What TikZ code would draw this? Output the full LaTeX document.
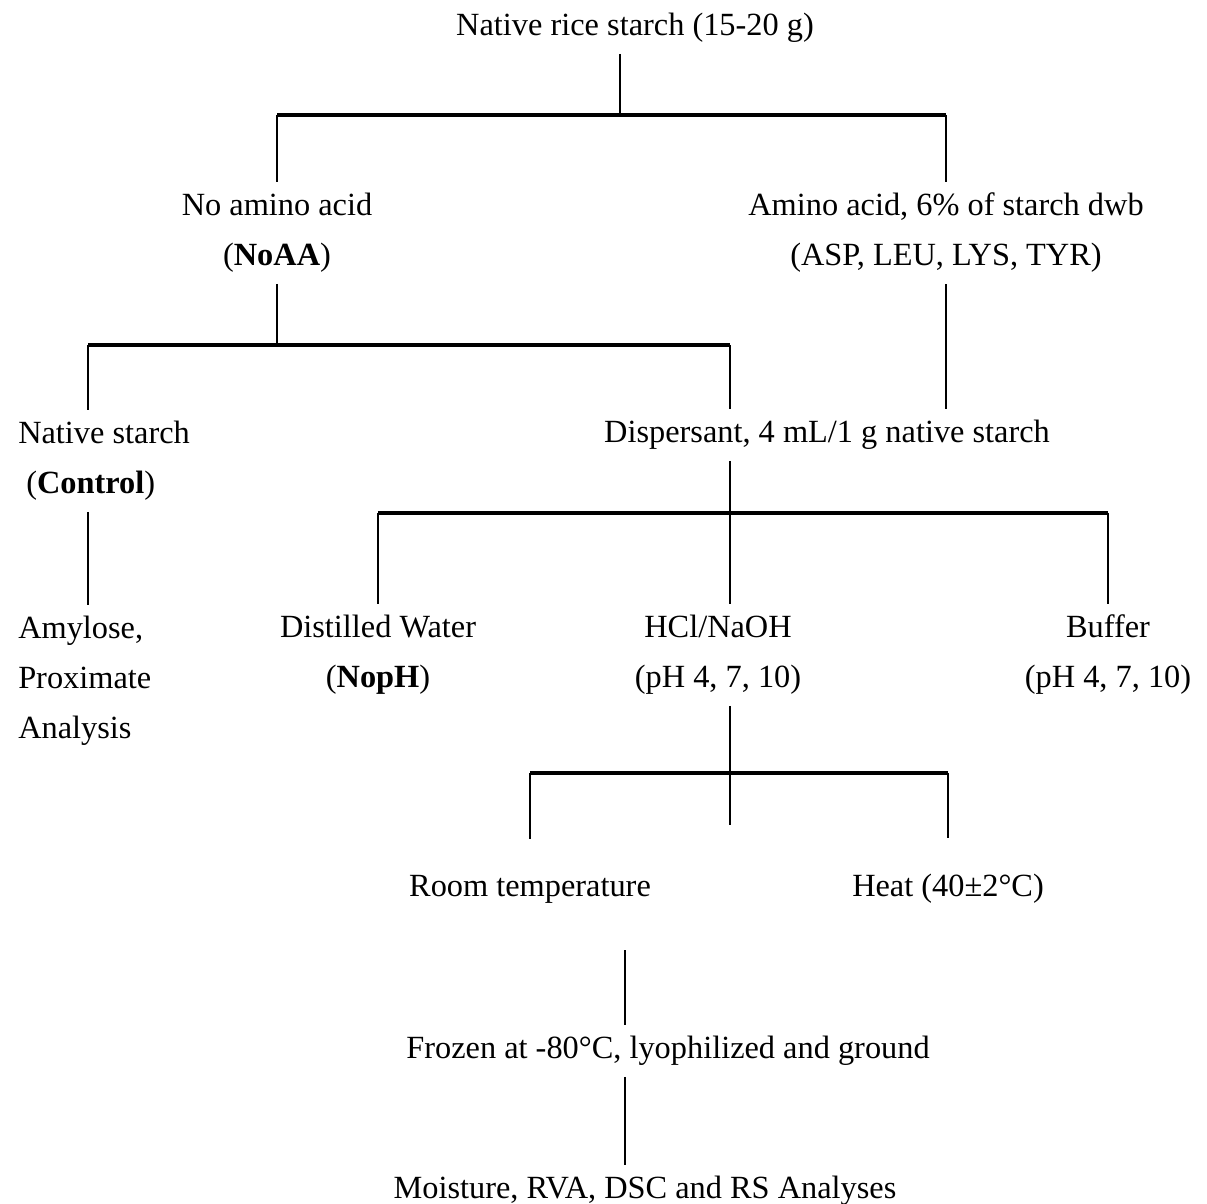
\documentclass[tikz,border=0pt]{standalone}
\usepackage{fontspec}
\setmainfont{Liberation Serif}
\usetikzlibrary{positioning}

\begin{document}
\begin{tikzpicture}[x=0.01cm,y=-0.01cm,
    every node/.style={font=\fontsize{9.2}{14.2}\selectfont,inner sep=3pt},
    stem/.style={line width=0.6pt},
    bar/.style={line width=1pt}]
          \useasboundingbox (0,0) rectangle (1207,1204);
          \node (rice) at (635,28) {Native rice starch (15-20 g)};
          \node[align=center] (noaa) at (277,233) {No amino acid\\(\textbf{NoAA})};
          \node[align=center] (amino) at (946,233) {Amino acid, 6\% of starch dwb\\(ASP, LEU, LYS, TYR)};
          \node[align=left,anchor=west] (control) at (7,461) {Native starch\\\ (\textbf{Control})};
          \node (disp) at (827,435) {Dispersant, 4 mL/1 g native starch};
          \node[align=left,anchor=west] (amyl) at (7,681) {Amylose,\\Proximate\\Analysis};
          \node[align=center] (water) at (378,655) {Distilled Water\\(\textbf{NopH})};
          \node[align=center] (hcl) at (718,655) {HCl/NaOH\\(pH 4, 7, 10)};
          \node[align=center] (buffer) at (1108,655) {Buffer\\(pH 4, 7, 10)};
          \node (room) at (530,889) {Room temperature};
          \node (heat) at (948,889) {Heat (40±2°C)};
          \node (frozen) at (668,1051) {Frozen at -80°C, lyophilized and ground};
          \node (moist) at (645,1191) {Moisture, RVA, DSC and RS Analyses};
          \coordinate (j1) at (620,115);
          \coordinate (ctl) at (88,345);
          \coordinate (dsp) at (730,345);
          \coordinate (j3) at (730,513);
          \coordinate (j4) at (730,773);
          \coordinate (stub) at (730,825);
          \coordinate (cool) at (625,950);
          \draw[stem] (rice.south -| j1) -- (j1);
          \draw[bar] (noaa.north |- j1) -- (amino.north |- j1);
          \draw[stem] (noaa.north |- j1) -- (noaa.north);
          \draw[stem] (amino.north |- j1) -- (amino.north);
          \draw[stem] (noaa.south) -- (noaa.south |- ctl);
          \draw[bar] (ctl) -- (dsp);
          \draw[stem] (ctl) -- (ctl |- control.north);
          \draw[stem] (dsp) -- (dsp |- disp.north);
          \draw[stem] (amino.south) -- (amino.south |- disp.north);
          \draw[stem] (ctl |- control.south) -- (ctl |- amyl.north);
          \draw[stem] (j3 |- disp.south) -- (j3);
          \draw[bar] (water.north |- j3) -- (buffer.north |- j3);
          \draw[stem] (water.north |- j3) -- (water.north);
          \draw[stem] (j3) -- (j3 |- hcl.north);
          \draw[stem] (buffer.north |- j3) -- (buffer.north);
          \draw[stem] (j3 |- hcl.south) -- (stub);
          \draw[bar] (room.north |- j4) -- (heat.north |- j4);
          \draw[stem] (room.north |- j4) -- ([yshift=0.25cm]room.north);
          \draw[stem] (heat.north |- j4) -- ([yshift=0.25cm]heat.north);
          \draw[stem] (cool) -- (cool |- frozen.north);
          \draw[stem] (cool |- frozen.south) -- (cool |- moist.north);
        \end{tikzpicture}
\end{document}
